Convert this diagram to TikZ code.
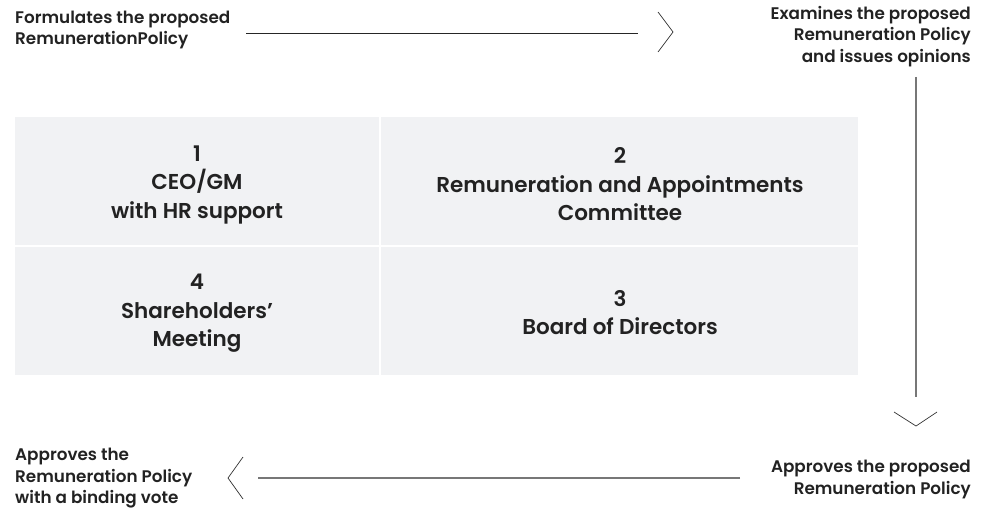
\documentclass[tikz,border=0pt]{standalone}
\usepackage{fontspec}
\setmainfont{Poppins}[BoldFont={Poppins SemiBold}]
\definecolor{cellbg}{HTML}{F1F2F4}
\definecolor{txt}{HTML}{222222}
\definecolor{conn}{HTML}{777777}
\begin{document}
\begin{tikzpicture}[x=1pt,y=-1pt,
  cell/.style={fill=cellbg,draw=none},
  celltext/.style={align=center,inner sep=0pt,text=txt,font=\bfseries\fontsize{21.5}{28.5}\selectfont},
  lbl/.style={inner sep=0pt,text=txt,font=\bfseries\fontsize{16.8}{21.5}\selectfont},
  conline/.style={draw=conn,line width=1.2pt},
  chev/.style={draw=black!80,line width=0.7pt}]
\useasboundingbox (0,0) rectangle (995,508);
% grid
\path[cell] (15,117) rectangle (379,245);
\path[cell] (381,117) rectangle (858,245);
\path[cell] (15,247) rectangle (379,375);
\path[cell] (381,247) rectangle (858,375);
\node[celltext] (c1) at (197,185) {1\\CEO/GM\\with HR support};
\node[celltext] (c2) at (620,184.5) {2\\Remuneration and Appointments\\Committee};
\node[celltext] (c4) at (197,313.5) {4\\Shareholders’\\Meeting};
\node[celltext] (c3) at (620,312.5) {3\\Board of Directors};
% labels
\node[lbl,anchor=west,align=left] (l1) at (15,30) {Formulates the proposed\\RemunerationPolicy};
\node[lbl,anchor=east,align=right] (l2) at (971,36.5) {Examines the proposed\\Remuneration Policy\\and issues opinions};
\node[lbl,anchor=east,align=right] (l3) at (971,479.5) {Approves the proposed\\Remuneration Policy};
\node[lbl,anchor=west,align=left] (l4) at (15,478.5) {Approves the\\Remuneration Policy\\with a binding vote};
% connectors
\coordinate (a1s) at (246,33);
\coordinate (a1e) at (638,33);
\coordinate (a1t) at (673,32);
\draw[draw=black!85,line width=0.9pt] (a1s) -- (a1e);
\draw[chev] ([xshift=-15pt,yshift=20pt]a1t) -- (a1t) -- ([xshift=-15pt,yshift=-20pt]a1t);
\coordinate (a2s) at (916,77);
\coordinate (a2e) at (916,397);
\coordinate (a2t) at (916,426);
\draw[conline] (a2s) -- (a2e);
\draw[chev] ([xshift=-22pt,yshift=14pt]a2t) -- (a2t) -- ([xshift=21pt,yshift=14pt]a2t);
\coordinate (a3s) at (740,478);
\coordinate (a3e) at (258,478);
\coordinate (a3t) at (228,478);
\draw[conline] (a3s) -- (a3e);
\draw[chev] ([xshift=15pt,yshift=21pt]a3t) -- (a3t) -- ([xshift=15pt,yshift=-21pt]a3t);
\end{tikzpicture}
\end{document}
